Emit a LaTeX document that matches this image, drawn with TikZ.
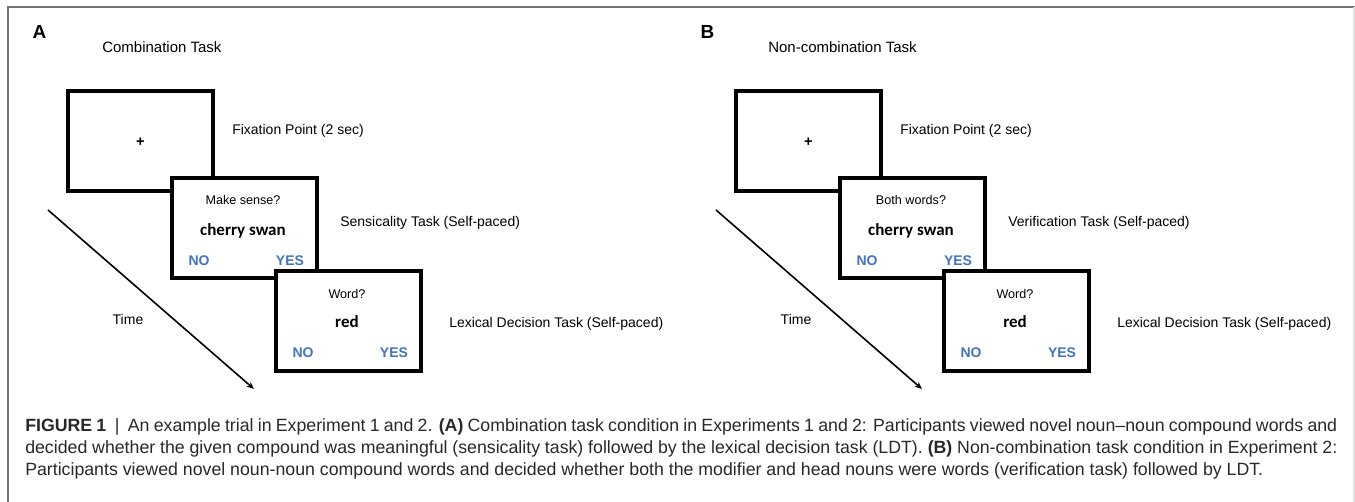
\documentclass[tikz,border=0pt]{standalone}
\usepackage{fontspec}
\setmainfont{Liberation Sans}
\newfontfamily\carlito{Carlito}
\usetikzlibrary{arrows.meta}
\definecolor{respblue}{RGB}{68,114,196}
\definecolor{framegrey}{RGB}{115,115,115}
\definecolor{captext}{RGB}{40,40,40}

\begin{document}
\begin{tikzpicture}[x=0.75pt,y=0.75pt,yscale=-1,xscale=1,
	screen/.style={draw,line width=3pt,fill=white,rectangle,minimum width=108.75pt,minimum height=75pt,inner sep=0pt},
	panel/.style={anchor=base,inner sep=0pt,font=\fontsize{14.2}{16}\selectfont\bfseries},
	tasktitle/.style={anchor=base west,inner sep=0pt,font=\fontsize{11.25}{13}\selectfont},
	tasklabel/.style={anchor=base west,inner sep=0pt,font=\fontsize{10.5}{12.6}\selectfont},
	cue/.style={anchor=base,inner sep=0pt,font=\fontsize{9.45}{11}\selectfont},
	stim/.style={anchor=base,inner sep=0pt,font=\carlito\fontsize{12.75}{15}\selectfont\bfseries},
	resp/.style={anchor=base,inner sep=0pt,text=respblue,font=\fontsize{10.5}{12.6}\selectfont\bfseries},
	fixcross/.style={inner sep=0pt,font=\fontsize{11}{12}\selectfont\bfseries},
	timeaxis/.style={line width=1.2pt,-{Stealth[length=5.5pt,width=4.5pt]}},
	timelabel/.style={anchor=base,inner sep=0pt,font=\fontsize{10.5}{12.6}\selectfont},
	caption/.style={anchor=north west,inner sep=0pt,text width=984pt,align=justify,text=captext,font=\fontsize{13.3}{16.5}\selectfont}]
	%page size and the grey frame round the figure
	\useasboundingbox (0,0) rectangle (1355,502);
	\draw[framegrey,line width=1.2pt] (8,502) -- (8,7) -- (1355,7);
	\draw[black!12,line width=1pt] (1354,7) -- (1354,502);
	
	%panel A: combination task
	\node[panel] (A-letter) at (39.5,39) {A};
	\node[tasktitle] (A-title) at (102,53) {Combination Task};
	
	\node[screen] (A-fix) at (140.5,141) {};
	\node[screen] (A-sense) at (244.5,228) {};
	\node[screen] (A-lex) at (348.5,321) {};
	
	\node[fixcross] (A-plus) at (140.5,142) {+};
	\node[cue] (A-q1) at (243,205) {Make sense?};
	\node[stim] (A-w1) at (243,235) {cherry swan};
	\node[resp] (A-no1) at (199,265) {NO};
	\node[resp] (A-yes1) at (290,265) {YES};
	\node[cue] (A-q2) at (347,298) {Word?};
	\node[stim] (A-w2) at (347,327) {red};
	\node[resp] (A-no2) at (303,357) {NO};
	\node[resp] (A-yes2) at (394,357) {YES};
	
	\node[tasklabel] (A-l1) at (232,135) {Fixation Point (2 sec)};
	\node[tasklabel] (A-l2) at (340,227) {Sensicality Task (Self-paced)};
	\node[tasklabel] (A-l3) at (449,327) {Lexical Decision Task (Self-paced)};
	
	\coordinate (A-t0) at (48,210);
	\coordinate (A-t1) at (254,389);
	\draw[timeaxis] (A-t0) -- (A-t1);
	\node[timelabel] (A-time) at (128,324) {Time};
	
	%panel B: non-combination task
	\node[panel] (B-letter) at (707.5,39) {B};
	\node[tasktitle] (B-title) at (768,53) {Non-combination Task};
	
	\node[screen] (B-fix) at (808.5,141) {};
	\node[screen] (B-verif) at (912.5,228) {};
	\node[screen] (B-lex) at (1016.5,321) {};
	
	\node[fixcross] (B-plus) at (808.5,142) {+};
	\node[cue] (B-q1) at (911,205) {Both words?};
	\node[stim] (B-w1) at (911,235) {cherry swan};
	\node[resp] (B-no1) at (867,265) {NO};
	\node[resp] (B-yes1) at (958,265) {YES};
	\node[cue] (B-q2) at (1015,298) {Word?};
	\node[stim] (B-w2) at (1015,327) {red};
	\node[resp] (B-no2) at (971,357) {NO};
	\node[resp] (B-yes2) at (1062,357) {YES};
	
	\node[tasklabel] (B-l1) at (900,135) {Fixation Point (2 sec)};
	\node[tasklabel] (B-l2) at (1008,227) {Verification Task (Self-paced)};
	\node[tasklabel] (B-l3) at (1117,327) {Lexical Decision Task (Self-paced)};
	
	\coordinate (B-t0) at (716,210);
	\coordinate (B-t1) at (922,389);
	\draw[timeaxis] (B-t0) -- (B-t1);
	\node[timelabel] (B-time) at (796,324) {Time};
	
	%caption
	\node[caption] (cap) at (25,418) {\textbf{FIGURE 1}\ \ |\ \ An example trial in Experiment 1 and 2. \textbf{(A)} Combination task condition in Experiments 1 and 2: Participants viewed novel noun–noun compound words and\linebreak decided whether the given compound was meaningful (sensicality task) followed by the lexical decision task (LDT). \textbf{(B)} Non-combination task condition in Experiment 2:\linebreak Participants viewed novel noun-noun compound words and decided whether both the modifier and head nouns were words (verification task) followed by LDT.};
\end{tikzpicture}
\end{document}
